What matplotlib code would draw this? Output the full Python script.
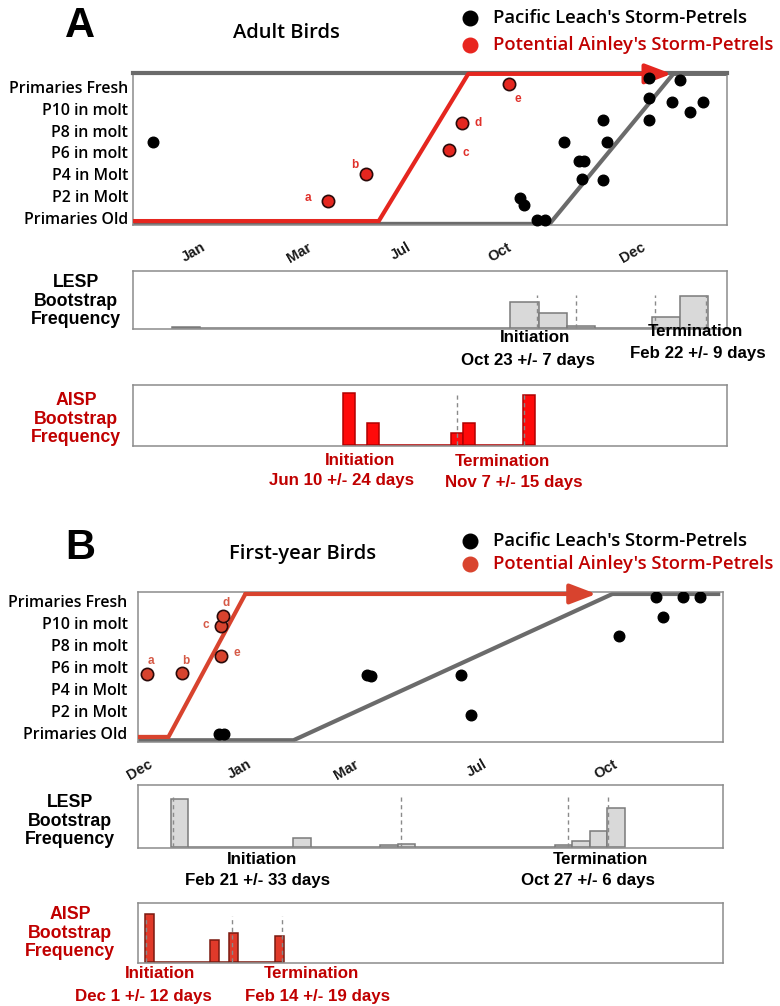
import numpy as np
import matplotlib
matplotlib.use("Agg")
import matplotlib.pyplot as plt
from matplotlib.lines import Line2D

# figure size in pixels
W, H = 780, 1006

# molt stages on the y axis
stages = ["Primaries Old", "P2 in Molt", "P4 in Molt", "P6 in molt",
          "P8 in molt", "P10 in molt", "Primaries Fresh"]

# --- A: adult birds (x = day of the season) ---
months_a = ["Jan", "Mar", "Jul", "Oct", "Dec"]
month_day_a = [42, 107, 168, 230, 312]

lesp_a_day = [12, 238, 240, 248, 253, 265, 274, 277, 276, 289, 291, 289,
              317, 317, 317, 336, 331, 342, 350]
lesp_a_stage = [3.5, 0.9, 0.6, -0.1, -0.1, 3.5, 2.6, 2.6, 1.8, 4.5, 3.5, 1.75,
                6.4, 5.5, 4.5, 6.3, 5.3, 4.85, 5.3]
aisp_a_day = [120, 143, 194, 202, 231]
aisp_a_stage = [0.8, 2.0, 3.1, 4.35, 6.15]
tags = ["a", "b", "c", "d", "e"]

lesp_a_line_day = [0, 256, 332, 365]
lesp_a_line_stage = [-0.27, -0.27, 6.6, 6.6]
aisp_a_line_day = [0, 151, 206, 331]
aisp_a_line_stage = [-0.14, -0.14, 6.6, 6.6]

lesp_a_bin0, lesp_a_binw = 24.0, 17.33
lesp_a_freq = [0.01, 0, 0, 0, 0, 0, 0, 0, 0, 0, 0, 0, 0.46, 0.27, 0.03, 0.005,
               0, 0.19, 0.56]
lesp_a_ci = [248, 272, 321, 352]
aisp_a_bin0, aisp_a_binw = 129.0, 7.37
aisp_a_freq = [0.86, 0, 0.37, 0, 0, 0, 0, 0, 0, 0.2, 0.37, 0, 0, 0, 0, 0.83]
aisp_a_ci = [199, 240]

# --- B: first-year birds ---
months_b = ["Dec", "Jan", "Mar", "Jul", "Oct"]
month_day_b = [6, 68, 135, 215, 296]

lesp_b_day = [50.5, 53.7, 143, 145.4, 201.5, 207.8, 300, 323, 327.6, 340, 350.6]
lesp_b_stage = [-0.05, -0.05, 2.64, 2.59, 2.64, 0.82, 4.41, 6.18, 5.27, 6.18, 6.18]
aisp_b_day = [5.6, 27.5, 51.8, 53.0, 51.8]
aisp_b_stage = [2.68, 2.73, 4.86, 5.32, 3.5]

lesp_b_line_day = [0, 97, 296, 362]
lesp_b_line_stage = [-0.33, -0.33, 6.32, 6.32]
aisp_b_line_day = [0, 19, 67, 286]
aisp_b_line_stage = [-0.18, -0.18, 6.32, 6.32]

lesp_b_bin0, lesp_b_binw = 20.6, 10.89
lesp_b_freq = [0.78, 0, 0, 0, 0, 0, 0, 0.15, 0, 0, 0, 0, 0.03, 0.05,
               0, 0, 0, 0, 0, 0, 0, 0, 0.03, 0.09, 0.25, 0.62]
lesp_b_ci = [22, 164, 268, 293]
aisp_b_bin0, aisp_b_binw = 4.4, 5.8
aisp_b_freq = [0.81, 0, 0, 0, 0, 0, 0, 0.37, 0, 0.49, 0, 0, 0, 0, 0.44]
aisp_b_ci = [5, 58.6, 89.8]

# colours / fonts
GREY_LINE = "#6b6b6b"
FRAME = "#8c8c8c"
DARK_RED = "#c00000"
OPEN = ["Open Sans", "DejaVu Sans"]
ARIAL = ["Liberation Sans", "DejaVu Sans"]
NOTE = 12.2   # size of the initiation / termination notes
SIDE = 12.8   # size of the "Bootstrap Frequency" labels

fig = plt.figure(figsize=(W / 100, H / 100), dpi=100)


def px_box(l, t, r, b):
    return [l / W, 1 - b / H, (r - l) / W, (b - t) / H]


def ftext(x, y, s, ha="center", **kw):
    fig.text(x / W, 1 - y / H, s, ha=ha, va="center", **kw)


def note(x, y, s, color="black", size=NOTE, **kw):
    ftext(x, y, s, fontsize=size, family=ARIAL, weight="bold", color=color, **kw)


def fdot(x, y, color):
    fig.add_artist(Line2D([x / W], [1 - y / H], transform=fig.transFigure,
                          marker="o", ms=10.5, color=color, lw=0))


def frame(ax):
    for s in ax.spines.values():
        s.set_color(FRAME)
        s.set_linewidth(1.1)


def main_axes(box, ylim, months, month_days, ypad):
    ax = fig.add_axes(px_box(*box))
    ax.set_xlim(0, 365)
    ax.set_ylim(*ylim)
    frame(ax)
    ax.set_yticks(range(7))
    ax.set_yticklabels(stages, fontsize=11.4, weight="semibold", family=OPEN)
    ax.tick_params(axis="y", length=0, pad=ypad)
    ax.set_xticks(month_days)
    ax.set_xticklabels(months, rotation=30, ha="right", rotation_mode="anchor",
                       fontsize=10.5, weight="bold", family=ARIAL,
                       color="#1a1a1a")
    ax.tick_params(axis="x", length=0, pad=11)
    return ax


def boot_hist(box, bin0, binw, freq, ci, ci_top, face, edge):
    ax = fig.add_axes(px_box(*box))
    left = bin0 + binw * np.arange(len(freq))
    ax.bar(left, freq, width=binw, align="edge", color=face, edgecolor=edge,
           linewidth=1.1, zorder=2)
    ax.vlines(ci, 0, ci_top, colors="#8a8a8a", linestyles=(0, (3, 2.5)),
              linewidth=1, zorder=3)
    ax.set_xlim(0, 365)
    ax.set_ylim(-0.02, 1)
    ax.set_xticks([])
    ax.set_yticks([])
    frame(ax)
    return ax


def tag_points(ax, xs, ys, offsets, color):
    for x, y, t, off in zip(xs, ys, tags, offsets):
        ax.annotate(t, (x, y), xytext=off, textcoords="offset pixels",
                    ha="center", va="center", fontsize=8.5, weight="bold",
                    color=color, family=ARIAL)


# ================= Panel A =================
ftext(80, 26, "A", fontsize=30, weight="bold", family=ARIAL)
ftext(286, 33, "Adult Birds", fontsize=14.5, weight="semibold", family=OPEN)
fdot(470, 18, "black")
fdot(470, 45, "#e8251f")
ftext(493, 18, "Pacific Leach's Storm-Petrels", ha="left", fontsize=13.3,
      weight="semibold", family=OPEN)
ftext(493, 45, "Potential Ainley's Storm-Petrels", ha="left", fontsize=13.3,
      weight="semibold", family=OPEN, color=DARK_RED)

ax = main_axes((133, 73, 727, 225), (-0.32, 6.64), months_a, month_day_a, 3.5)
ax.spines["top"].set_linewidth(3)
ax.spines["top"].set_color(GREY_LINE)
ax.plot(lesp_a_line_day, lesp_a_line_stage, color=GREY_LINE, lw=3, zorder=2)
red_a = "#e5261f"
ax.plot(aisp_a_line_day[:3], aisp_a_line_stage[:3], color=red_a, lw=3,
        zorder=3, solid_joinstyle="miter")
ax.annotate("", xy=(aisp_a_line_day[3], aisp_a_line_stage[3]),
            xytext=(aisp_a_line_day[2], aisp_a_line_stage[2]),
            arrowprops=dict(arrowstyle="-|>,head_length=1.0,head_width=0.38",
                            mutation_scale=16, lw=3, color=red_a,
                            shrinkA=0, shrinkB=0), zorder=3)
ax.scatter(lesp_a_day, lesp_a_stage, s=58, color="black", zorder=4,
           clip_on=False)
ax.scatter(aisp_a_day, aisp_a_stage, s=78, color=red_a, edgecolor="#2a0a0a",
           linewidth=1.2, zorder=5)
tag_points(ax, aisp_a_day, aisp_a_stage,
           [(-20, 3), (-11, 9), (17, -3), (16, 0), (9, -15)], "#e0302a")

boot_hist((133, 271, 727, 329), lesp_a_bin0, lesp_a_binw, lesp_a_freq,
          lesp_a_ci, 0.58, "#d9d9d9", "#7a7a7a")
ftext(76, 301, "LESP\nBootstrap\nFrequency", fontsize=SIDE, family=ARIAL,
      weight="bold", linespacing=1.08)
note(535, 338, "Initiation")
note(528, 360, "Oct 23 +/- 7 days")
note(695, 331, "Termination")
note(698, 354, "Feb 22 +/- 9 days")

boot_hist((133, 385, 727, 446), aisp_a_bin0, aisp_a_binw, aisp_a_freq,
          aisp_a_ci, 0.88, "#ff0a0a", "#b00000")
ftext(76, 419, "AISP\nBootstrap\nFrequency", fontsize=SIDE, family=ARIAL,
      weight="bold", linespacing=1.08, color=DARK_RED)
note(360, 460, "Initiation", DARK_RED)
note(342, 481, "Jun 10 +/- 24 days", DARK_RED)
note(502, 461, "Termination", DARK_RED)
note(514, 482, "Nov 7 +/- 15 days", DARK_RED)

# ================= Panel B =================
ftext(80, 548, "B", fontsize=30, weight="bold", family=ARIAL)
ftext(303, 554, "First-year Birds", fontsize=14.5, weight="semibold", family=OPEN)
fdot(470, 541, "black")
fdot(470, 564, "#d9442e")
ftext(493, 541, "Pacific Leach's Storm-Petrels", ha="left", fontsize=13.3,
      weight="semibold", family=OPEN)
ftext(493, 564, "Potential Ainley's Storm-Petrels", ha="left", fontsize=13.3,
      weight="semibold", family=OPEN, color=DARK_RED)

ax = main_axes((138, 592, 723, 742), (-0.41, 6.41), months_b, month_day_b, 7.5)
red_b = "#d8432e"
ax.plot(lesp_b_line_day, lesp_b_line_stage, color=GREY_LINE, lw=3, zorder=2)
ax.plot(aisp_b_line_day[:3], aisp_b_line_stage[:3], color=red_b, lw=3,
        zorder=3, solid_joinstyle="miter")
ax.annotate("", xy=(aisp_b_line_day[3], aisp_b_line_stage[3]),
            xytext=(aisp_b_line_day[2], aisp_b_line_stage[2]),
            arrowprops=dict(arrowstyle="-|>,head_length=1.0,head_width=0.38",
                            mutation_scale=16, lw=3, color=red_b,
                            shrinkA=0, shrinkB=0), zorder=3)
ax.scatter(lesp_b_day, lesp_b_stage, s=58, color="black", zorder=4)
ax.scatter(aisp_b_day, aisp_b_stage, s=78, color=red_b, edgecolor="#2a0a0a",
           linewidth=1.2, zorder=5)
tag_points(ax, aisp_b_day, aisp_b_stage,
           [(4, 13), (4, 12), (-15, 1), (3, 13), (16, 3)], "#d65a47")

boot_hist((138, 785, 723, 848), lesp_b_bin0, lesp_b_binw, lesp_b_freq,
          lesp_b_ci, 0.84, "#d9d9d9", "#7a7a7a")
ftext(70, 821, "LESP\nBootstrap\nFrequency", fontsize=SIDE, family=ARIAL,
      weight="bold", linespacing=1.08)
note(262, 860, "Initiation")
note(258, 880, "Feb 21 +/- 33 days")
note(600, 860, "Termination")
note(588, 880, "Oct 27 +/- 6 days")

boot_hist((138, 903, 723, 963), aisp_b_bin0, aisp_b_binw, aisp_b_freq,
          aisp_b_ci, 0.78, "#e03a2a", "#7a1a10")
ftext(70, 933, "AISP\nBootstrap\nFrequency", fontsize=SIDE, family=ARIAL,
      weight="bold", linespacing=1.08, color=DARK_RED)
note(160, 974, "Initiation", DARK_RED)
note(143, 997, "Dec 1 +/- 12 days", DARK_RED)
note(311, 974, "Termination", DARK_RED)
note(318, 997, "Feb 14 +/- 19 days", DARK_RED)

fig.savefig("out.png", dpi=100)
